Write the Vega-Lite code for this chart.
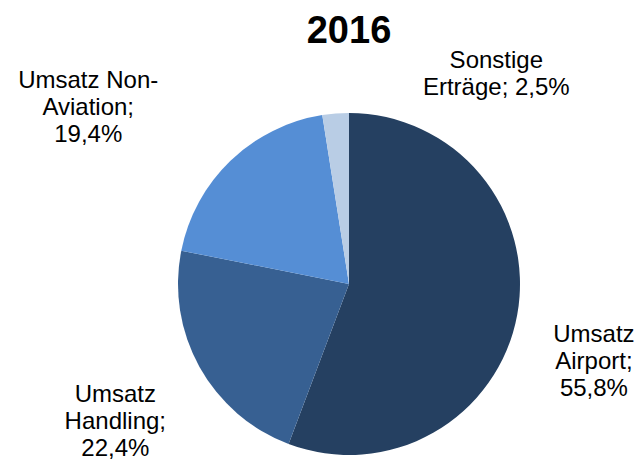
{
  "$schema": "https://vega.github.io/schema/vega-lite/v6.json",
  "autosize": {"type": "none"},
  "width": 586,
  "height": 358,
  "padding": {"left": 56, "top": 105, "right": 0, "bottom": 0},
  "background": "white",
  "view": {"stroke": null},
  "title": {"text": "2016", "font": "Liberation Sans", "fontSize": 38, "fontWeight": "bold", "color": "black", "frame": "group", "anchor": "middle", "offset": -2},
  "data": {"values": [
    {"idx": 1, "cat": "Umsatz Airport", "value": 55.8, "lines": ["Umsatz", "Airport;", "55,8%"]},
    {"idx": 2, "cat": "Umsatz Handling", "value": 22.4, "lines": ["Umsatz", "Handling;", "22,4%"]},
    {"idx": 3, "cat": "Umsatz Non-Aviation", "value": 19.4, "lines": ["Umsatz Non-", "Aviation;", "19,4%"]},
    {"idx": 4, "cat": "Sonstige Erträge", "value": 2.5, "lines": ["Sonstige", "Erträge; 2,5%"]}
  ]},
  "encoding": {
    "theta": {"field": "value", "type": "quantitative", "stack": true},
    "order": {"field": "idx", "type": "quantitative"}
  },
  "layer": [
    {
      "mark": {"type": "arc", "radius": 171},
      "encoding": {
        "color": {"field": "cat", "type": "nominal", "legend": null,
          "scale": {"domain": ["Umsatz Airport", "Umsatz Handling", "Umsatz Non-Aviation", "Sonstige Erträge"],
                    "range": ["#254061", "#376092", "#558ED5", "#B9CDE5"]}}
      }
    },
    {
      "mark": {"type": "text", "font": "Liberation Sans", "fontSize": 24, "lineHeight": 27, "align": "center", "baseline": "middle", "color": "black",
        "radius": {"expr": "datum.idx==1?250:datum.idx==2?273:datum.idx==3?307:200"},
        "dx": {"expr": "datum.idx==1?-1:datum.idx==2?5:datum.idx==3?-48:163"},
        "dy": {"expr": "datum.idx==1?6:datum.idx==2?-22:datum.idx==3?18:-24"}},
      "encoding": {
        "text": {"field": "lines", "type": "nominal"}
      }
    }
  ]
}
